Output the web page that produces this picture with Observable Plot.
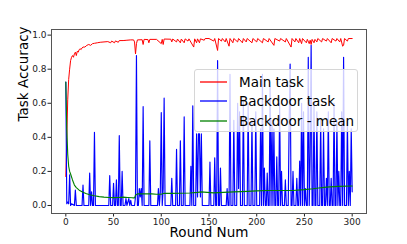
<!DOCTYPE html>
<html>
<head>
<meta charset="utf-8">
<script src="https://cdn.jsdelivr.net/npm/d3@7"></script>
<script src="https://cdn.jsdelivr.net/npm/@observablehq/plot@0.6"></script>
<style>
  html, body { margin: 0; padding: 0; background: #fff; }
  #wrap { position: relative; width: 407px; height: 244px; font-family: "DejaVu Sans", sans-serif; }
  #legend {
    position: absolute; left: 194px; top: 69px; width: 164px; height: 63px;
    background: rgba(255,255,255,0.8); border: 1px solid #d6d6d6; border-radius: 3px;
    box-sizing: border-box; font-size: 13.5px; color: #000;
  }
  .row { position: absolute; left: 0; height: 20px; display: flex; align-items: center; white-space: nowrap; }
  .row svg { display: block; margin-left: 5px; margin-right: 12px; }
</style>
</head>
<body>
<div id="wrap"></div>
<script>
// ---- data ----
const xTicks = [0, 50, 100, 150, 200, 250, 300];
const yTicks = [0, 0.2, 0.4, 0.6, 0.8, 1.0];

const seriesNames = ["Main task", "Backdoor task", "Backdoor - mean"];
const seriesColors = ["#ff0000", "#0000ff", "#008000"];

const mainRounds = [0,1,2,3,4,5,6,7,8,9,10,11,12,13,14,15,16,17,18,20,22,24,26,28,30,33,36,40,44,47,48,51,52,55,56,60,64,68,71,72,73,74,75,80,81,82,86,87,88,95,100,101,102,103,110,111,112,116,117,120,121,124,125,128,129,134,135,137,138,140,141,145,146,150,155,156,159,160,163,164,167,168,171,172,175,176,180,181,185,186,189,190,195,196,200,201,206,207,212,213,218,219,224,225,230,231,236,237,240,241,244,245,247,248,252,253,255,256,257,258,260,261,263,264,268,269,273,274,278,279,283,284,287,288,290,291,292,295,296,300];
const mainAcc = [0.17,0.40,0.62,0.74,0.80,0.85,0.87,0.88,0.87,0.89,0.90,0.88,0.905,0.90,0.915,0.92,0.915,0.925,0.93,0.93,0.94,0.945,0.94,0.95,0.952,0.955,0.958,0.96,0.962,0.955,0.965,0.955,0.966,0.958,0.968,0.968,0.97,0.972,0.972,0.96,0.89,0.95,0.972,0.973,0.945,0.975,0.974,0.955,0.975,0.975,0.95,0.975,0.945,0.977,0.976,0.96,0.977,0.96,0.977,0.955,0.977,0.955,0.978,0.965,0.978,0.93,0.978,0.955,0.978,0.955,0.978,0.97,0.98,0.98,0.965,0.98,0.91,0.98,0.965,0.98,0.96,0.98,0.935,0.98,0.955,0.98,0.96,0.98,0.955,0.98,0.96,0.98,0.955,0.98,0.96,0.98,0.955,0.98,0.96,0.98,0.94,0.98,0.965,0.98,0.96,0.98,0.93,0.98,0.96,0.98,0.955,0.98,0.95,0.98,0.955,0.975,0.95,0.97,0.945,0.975,0.955,0.975,0.96,0.98,0.96,0.98,0.965,0.98,0.955,0.98,0.965,0.98,0.96,0.98,0.935,0.94,0.98,0.965,0.98,0.98];

const backdoorRounds = [0,1,2,3,4,5,6,9,10,11,17,18,19,24,25,26,27,28,29,30,31,45,46,47,49,50,51,52,53,54,55,56,57,58,59,60,62,63,64,66,67,68,69,72,73,74,75,76,77,78,79,80,81,82,87,88,89,96,97,98,99,100,101,102,103,104,110,111,112,115,116,117,119,120,121,123,124,125,130,131,132,133,134,136,137,138,139,140,141,142,143,150,151,152,155,156,157,158,159,160,161,162,163,168,169,170,171,172,173,175,176,177,179,180,181,182,183,185,186,187,190,191,192,194,195,196,198,199,200,203,204,205,206,207,208,209,210,211,212,213,214,215,216,217,218,219,220,221,222,223,224,225,226,227,229,230,231,233,234,235,236,237,238,239,241,242,243,244,245,246,247,248,249,250,251,252,253,254,255,256,257,258,259,260,261,262,263,264,266,267,268,269,270,271,272,273,274,275,276,277,278,279,280,281,282,283,284,285,286,287,288,289,290,291,292,294,295,296,297,298,299,300];
const backdoorAcc = [0.725,0.01,0.02,0.01,0.18,0.0,0.01,0.0,0.09,0.0,0.0,0.12,0.0,0.0,0.19,0.0,0.08,0.0,0.0,0.43,0.0,0.0,0.175,0.0,0.0,0.13,0.0,0.0,0.15,0.0,0.0,0.41,0.0,0.0,0.2,0.0,0.0,0.04,0.0,0.04,0.0,0.03,0.0,0.0,0.05,0.88,0.0,0.0,0.1,0.05,0.1,0.0,0.58,0.0,0.0,0.38,0.0,0.0,0.1,0.0,0.08,0.545,0.0,0.1,0.63,0.0,0.0,0.16,0.0,0.0,0.33,0.0,0.0,0.38,0.0,0.0,0.52,0.0,0.0,0.23,0.0,0.585,0.0,0.0,0.42,0.05,0.42,0.42,0.05,0.42,0.0,0.0,0.255,0.0,0.0,0.28,0.0,0.0,0.85,0.0,0.0,0.22,0.0,0.0,0.1,0.0,0.0,0.77,0.0,0.0,0.5,0.0,0.0,0.6,0.1,0.55,0.0,0.0,0.62,0.0,0.0,0.6,0.0,0.0,0.5,0.0,0.0,0.55,0.0,0.0,0.45,0.0,0.77,0.0,0.22,0.0,0.0,0.19,0.0,0.0,0.7,0.0,0.5,0.0,0.45,0.0,0.0,0.285,0.0,0.0,0.6,0.0,0.2,0.0,0.0,0.15,0.0,0.0,0.5,0.83,0.0,0.0,0.2,0.0,0.0,0.16,0.0,0.0,0.26,0.0,0.6,0.0,0.55,0.0,0.1,0.0,0.0,0.87,0.0,0.3,0.94,0.0,0.0,0.6,0.0,0.0,0.55,0.0,0.0,0.5,0.0,0.0,0.45,0.0,0.0,0.16,0.0,0.55,0.0,0.0,0.16,0.0,0.0,0.6,0.0,0.0,0.5,0.0,0.2,0.0,0.0,0.55,0.0,0.87,0.0,0.0,0.5,0.0,0.2,0.0,0.45,0.08];

const meanRounds = [0,1,2,3,4,5,7,9,11,14,18,21,25,30,35,40,45,50,55,60,65,70,72,73,75,80,90,95,100,103,110,120,130,138,142,148,155,165,176,190,200,211,225,238,250,259,265,273,285,300];
const meanAcc = [0.725,0.45,0.30,0.23,0.20,0.185,0.15,0.12,0.105,0.09,0.078,0.07,0.063,0.057,0.052,0.049,0.047,0.046,0.047,0.049,0.047,0.045,0.045,0.06,0.068,0.068,0.068,0.066,0.066,0.072,0.071,0.072,0.073,0.077,0.08,0.077,0.074,0.077,0.08,0.083,0.086,0.088,0.088,0.088,0.093,0.098,0.103,0.108,0.112,0.114];

// ---- build tables ----
const mainData = mainRounds.map((r, i) => ({r, v: mainAcc[i]}));
const backdoorData = backdoorRounds.map((r, i) => ({r, v: backdoorAcc[i]}));
const meanData = meanRounds.map((r, i) => ({r, v: meanAcc[i]}));

const chart = Plot.plot({
  width: 407,
  height: 244,
  marginLeft: 51,
  marginRight: 41,
  marginTop: 29,
  marginBottom: 31,
  style: {fontFamily: "DejaVu Sans, sans-serif", fontSize: "9px", color: "#222", background: "white", overflow: "visible"},
  x: {domain: [-15, 315], ticks: xTicks, tickSize: 3.5, tickPadding: 1.5, label: null},
  y: {domain: [-0.047, 1.033], ticks: yTicks, tickFormat: d3.format(".1f"), tickSize: 3.5, tickPadding: 1.5, label: null},
  marks: [
    Plot.lineY(mainData, {x: "r", y: "v", stroke: seriesColors[0], strokeWidth: 1}),
    Plot.lineY(backdoorData, {x: "r", y: "v", stroke: seriesColors[1], strokeWidth: 1.15}),
    Plot.lineY(meanData, {x: "r", y: "v", stroke: seriesColors[2], strokeWidth: 1.1}),
    Plot.frame({stroke: "#555", strokeWidth: 1}),
    Plot.text(["Task Accuracy"], {frameAnchor: "left", dx: -28, rotate: -90, fontSize: 13.5, fill: "#000"}),
    Plot.text(["Round Num"], {frameAnchor: "bottom", dy: 23.5, fontSize: 13.5, fill: "#000"})
  ]
});

const wrap = document.getElementById("wrap");
wrap.appendChild(chart);

const svgNS = "http://www.w3.org/2000/svg";
const legend = document.createElement("div");
legend.id = "legend";
seriesNames.forEach((name, i) => {
  const row = document.createElement("div");
  row.className = "row";
  row.style.top = (1.5 + i * 19.7) + "px";
  const sw = document.createElementNS(svgNS, "svg");
  sw.setAttribute("width", "27");
  sw.setAttribute("height", "6");
  const ln = document.createElementNS(svgNS, "line");
  ln.setAttribute("x1", "0"); ln.setAttribute("x2", "27");
  ln.setAttribute("y1", "3"); ln.setAttribute("y2", "3");
  ln.setAttribute("stroke", seriesColors[i]);
  ln.setAttribute("stroke-width", "1.3");
  sw.appendChild(ln);
  const label = document.createElement("span");
  label.textContent = name;
  row.appendChild(sw);
  row.appendChild(label);
  legend.appendChild(row);
});
wrap.appendChild(legend);
</script>
</body>
</html>
